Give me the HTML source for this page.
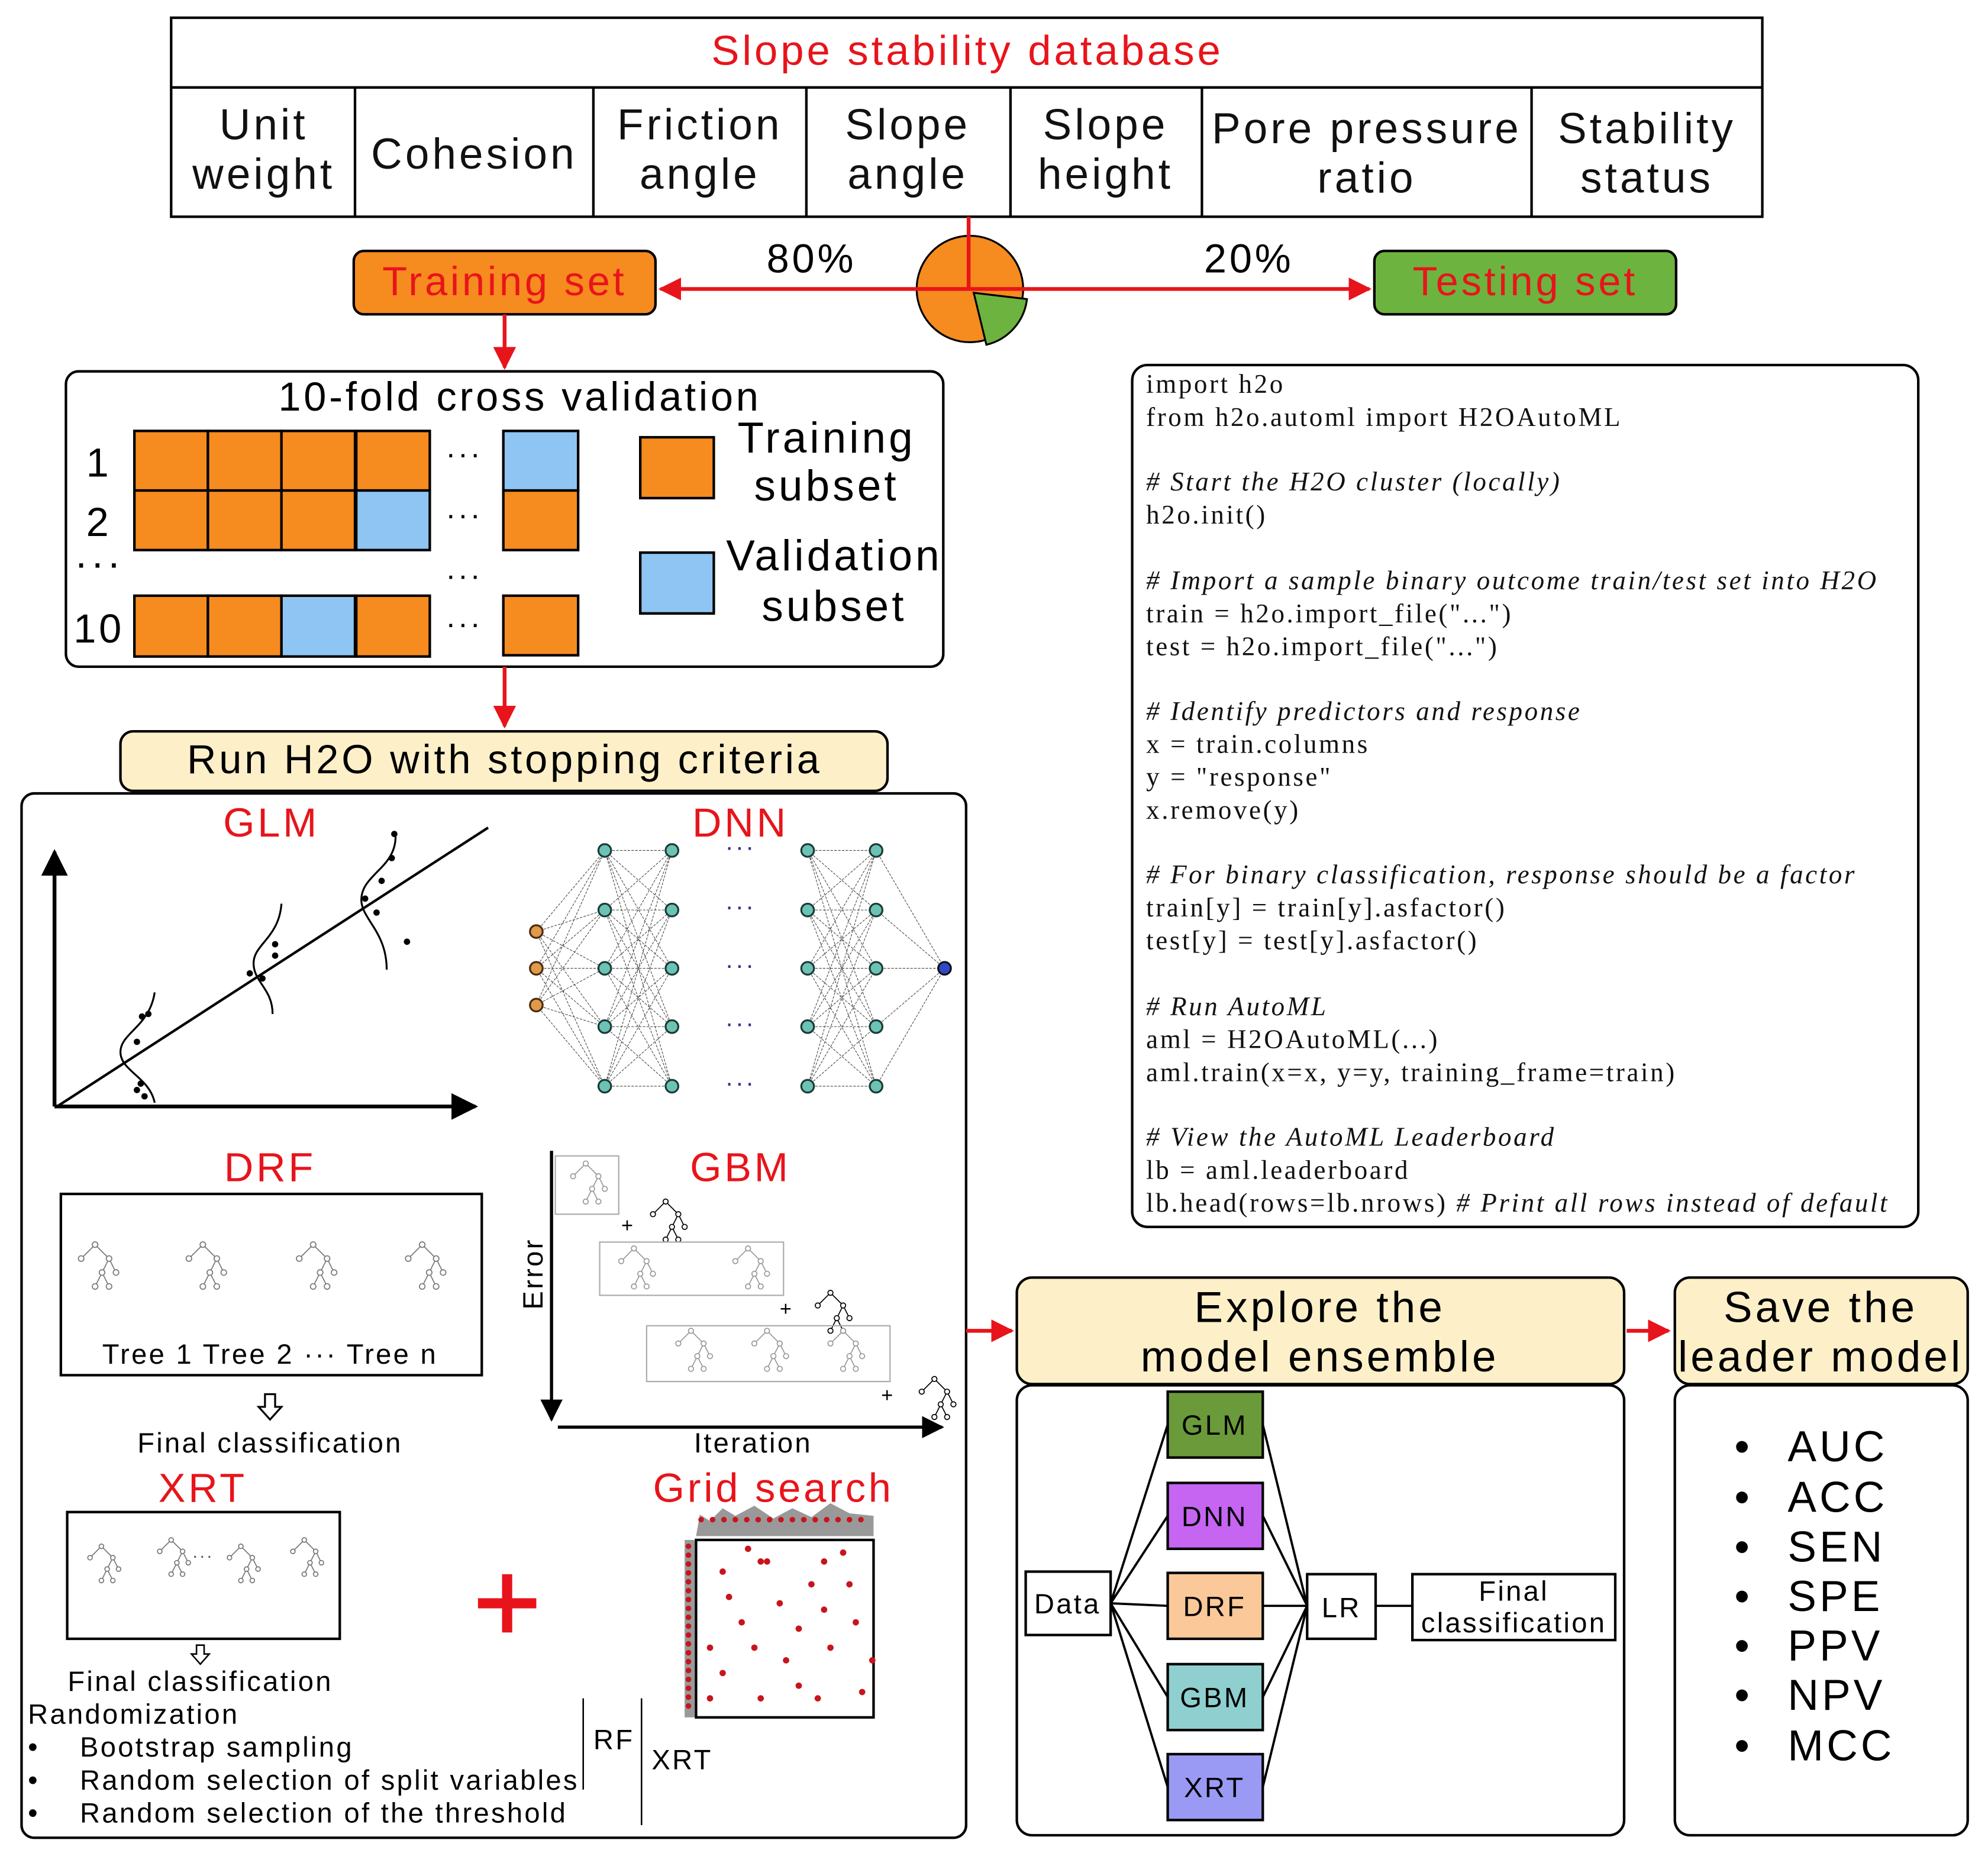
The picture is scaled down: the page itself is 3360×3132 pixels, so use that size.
<!DOCTYPE html>
<html><head><meta charset="utf-8">
<style>
html,body{margin:0;padding:0;background:#fff;}
svg{display:block;}
text{font-family:"Liberation Sans",sans-serif;letter-spacing:0.07em;}
.ser text{font-family:"Liberation Serif",serif;font-size:21px;fill:#111;letter-spacing:0.08em;}
.ser .it, .ser tspan.it{font-style:italic;}
</style></head>
<body>
<svg id="s" width="3360" height="3132" viewBox="0 0 1568 1462" preserveAspectRatio="none" xmlns="http://www.w3.org/2000/svg">
<defs>
<marker id="ar" viewBox="0 0 10 10" refX="9" refY="5" markerWidth="6" markerHeight="6" orient="auto"><path d="M0,0 L10,5 L0,10 z" fill="#e8141b"/></marker>
<marker id="ab" viewBox="0 0 10 10" refX="9" refY="5" markerWidth="7" markerHeight="7" orient="auto"><path d="M0,0 L10,5 L0,10 z" fill="#000"/></marker>
</defs>
<rect width="1568" height="1462" fill="#fff"/>
<g stroke="#000" stroke-width="2" fill="none">
<rect x="135" y="14" width="1255" height="157"/>
<line x1="135" y1="69" x2="1390" y2="69"/>
<line x1="280" y1="69" x2="280" y2="171"/><line x1="468" y1="69" x2="468" y2="171"/>
<line x1="636" y1="69" x2="636" y2="171"/><line x1="797" y1="69" x2="797" y2="171"/>
<line x1="948" y1="69" x2="948" y2="171"/><line x1="1208" y1="69" x2="1208" y2="171"/>
</g>
<text x="763" y="51" font-size="33" fill="#e8141b" text-anchor="middle">Slope stability database</text>
<g font-size="34" text-anchor="middle" fill="#111">
<text x="208" y="110">Unit</text><text x="208" y="149">weight</text>
<text x="374" y="133">Cohesion</text>
<text x="552" y="110">Friction</text><text x="552" y="149">angle</text>
<text x="716" y="110">Slope</text><text x="716" y="149">angle</text>
<text x="872" y="110">Slope</text><text x="872" y="149">height</text>
<text x="1078" y="113">Pore pressure</text><text x="1078" y="152">ratio</text>
<text x="1299" y="113">Stability</text><text x="1299" y="152">status</text>
</g>
<circle cx="765" cy="228" r="42" fill="#f68b1f" stroke="#000" stroke-width="1.5"/>
<path d="M768,231 L810,236 A42,42 0 0 1 778,272 Z" fill="#6db33f" stroke="#000" stroke-width="1.5"/>
<line x1="764" y1="171" x2="764" y2="228" stroke="#e8141b" stroke-width="3"/>
<line x1="764" y1="228" x2="521" y2="228" stroke="#e8141b" stroke-width="3" marker-end="url(#ar)"/>
<line x1="764" y1="228" x2="1080" y2="228" stroke="#e8141b" stroke-width="3" marker-end="url(#ar)"/>
<text x="640" y="215" font-size="32" text-anchor="middle">80%</text>
<text x="985" y="215" font-size="32" text-anchor="middle">20%</text>
<rect x="279" y="198" width="238" height="50" rx="8" fill="#f68b1f" stroke="#000" stroke-width="2"/>
<text x="398" y="233" font-size="32" fill="#e8141b" text-anchor="middle">Training set</text>
<rect x="1084" y="198" width="238" height="50" rx="8" fill="#6db33f" stroke="#000" stroke-width="2"/>
<text x="1203" y="233" font-size="32" fill="#e8141b" text-anchor="middle">Testing set</text>
<line x1="398" y1="248" x2="398" y2="290" stroke="#e8141b" stroke-width="3" marker-end="url(#ar)"/>
<rect x="52" y="293" width="692" height="233" rx="10" fill="#fff" stroke="#000" stroke-width="2"/>
<text x="410" y="324" font-size="32" text-anchor="middle">10-fold cross validation</text>
<g id="grid" stroke="#000" stroke-width="2"></g>
<g font-size="32" text-anchor="middle">
<text x="78" y="376">1</text><text x="78" y="423">2</text><text x="78" y="455">···</text><text x="78" y="507">10</text>
<text x="366" y="366" font-size="24">···</text><text x="366" y="414" font-size="24">···</text><text x="366" y="462" font-size="24">···</text><text x="366" y="500" font-size="24">···</text>
</g>
<rect x="505" y="345" width="58" height="48" fill="#f68b1f" stroke="#000" stroke-width="2"/>
<rect x="505" y="436" width="58" height="48" fill="#8ec5f2" stroke="#000" stroke-width="2"/>
<g font-size="34" text-anchor="middle"><text x="652" y="357">Training</text><text x="652" y="395">subset</text>
<text x="658" y="450">Validation</text><text x="658" y="490">subset</text></g>
<line x1="398" y1="526" x2="398" y2="573" stroke="#e8141b" stroke-width="3" marker-end="url(#ar)"/>
<rect x="95" y="577" width="605" height="47" rx="10" fill="#fdf0c8" stroke="#000" stroke-width="2"/>
<text x="398" y="610" font-size="32" text-anchor="middle">Run H2O with stopping criteria</text>
<rect x="17" y="626" width="745" height="824" rx="10" fill="none" stroke="#000" stroke-width="2"/>
<text x="214" y="660" font-size="32" fill="#e8141b" text-anchor="middle">GLM</text>
<line x1="43" y1="873" x2="43" y2="672" stroke="#000" stroke-width="3" marker-end="url(#ab)"/>
<line x1="43" y1="873" x2="375" y2="873" stroke="#000" stroke-width="3" marker-end="url(#ab)"/>
<line x1="45" y1="873" x2="385" y2="653" stroke="#000" stroke-width="2"/>
<g fill="none" stroke="#000" stroke-width="1.5">
<path d="M122,783 C118,810 95,815 95,830 C95,845 118,850 122,870"/>
<path d="M222,713 C220,740 200,745 200,760 C200,775 215,780 215,800"/>
<path d="M312,660 C312,685 285,690 285,710 C285,725 305,735 305,765"/>
</g>
<g fill="#000"><circle cx="112" cy="802" r="2.5"/><circle cx="117" cy="800" r="2.5"/><circle cx="108" cy="822" r="2.5"/><circle cx="111" cy="855" r="2.5"/><circle cx="114" cy="865" r="2.5"/><circle cx="108" cy="860" r="2.5"/>
<circle cx="217" cy="745" r="2.5"/><circle cx="217" cy="754" r="2.5"/><circle cx="197" cy="768" r="2.5"/><circle cx="207" cy="772" r="2.5"/>
<circle cx="311" cy="658" r="2.5"/><circle cx="309" cy="677" r="2.5"/><circle cx="301" cy="695" r="2.5"/><circle cx="288" cy="709" r="2.5"/><circle cx="297" cy="720" r="2.5"/><circle cx="321" cy="743" r="2.5"/></g>
<text x="584" y="660" font-size="32" fill="#e8141b" text-anchor="middle">DNN</text>
<g id="dnn"></g>
<text x="213" y="932" font-size="32" fill="#e8141b" text-anchor="middle">DRF</text>
<rect x="48" y="942" width="332" height="143" fill="none" stroke="#000" stroke-width="2"/>
<g id="trees" stroke="#777" stroke-width="0.8" fill="#fff"></g>
<text x="213" y="1076" font-size="22" text-anchor="middle">Tree 1  Tree 2    ···    Tree n</text>
<path d="M209,1100 h8 v10 h5 l-9,10 l-9,-10 h5 z" fill="#fff" stroke="#000" stroke-width="1.5"/>
<text x="213" y="1146" font-size="22" text-anchor="middle">Final classification</text>
<text x="584" y="932" font-size="32" fill="#e8141b" text-anchor="middle">GBM</text>
<line x1="435" y1="908" x2="435" y2="1120" stroke="#000" stroke-width="2.5" marker-end="url(#ab)"/>
<line x1="440" y1="1126" x2="743" y2="1126" stroke="#000" stroke-width="2.5" marker-end="url(#ab)"/>
<text x="428" y="1005" font-size="22" text-anchor="middle" transform="rotate(-90 428 1005)">Error</text>
<text x="594" y="1146" font-size="22" text-anchor="middle">Iteration</text>
<g fill="none" stroke="#aaa" stroke-width="1"><rect x="438" y="912" width="50" height="46"/><rect x="473" y="980" width="145" height="42"/><rect x="510" y="1046" width="192" height="44"/></g>
<g font-size="16" fill="#000"><text x="490" y="972">+</text><text x="615" y="1038">+</text><text x="695" y="1106">+</text></g>
<text x="160" y="1185" font-size="32" fill="#e8141b" text-anchor="middle">XRT</text>
<rect x="53" y="1193" width="215" height="100" fill="none" stroke="#000" stroke-width="2"/>
<text x="160" y="1232" font-size="14" text-anchor="middle" fill="#555">···</text>
<path d="M155,1298 h6 v7 h4 l-7,8 l-7,-8 h4 z" fill="#fff" stroke="#000" stroke-width="1.2"/>
<text x="158" y="1334" font-size="22" text-anchor="middle">Final classification</text>
<g font-size="22"><text x="22" y="1360">Randomization</text>
<text x="22" y="1386">•</text><text x="63" y="1386">Bootstrap sampling</text>
<text x="22" y="1412">•</text><text x="63" y="1412">Random selection of split variables</text>
<text x="22" y="1438">•</text><text x="63" y="1438">Random selection of the threshold</text>
<text x="468" y="1380">RF</text><text x="514" y="1396">XRT</text></g>
<line x1="460" y1="1340" x2="460" y2="1412" stroke="#000" stroke-width="1.2"/>
<line x1="506" y1="1340" x2="506" y2="1440" stroke="#000" stroke-width="1.2"/>
<path d="M400,1242 v46 M377,1265 h46" stroke="#e8141b" stroke-width="8"/>
<text x="610" y="1185" font-size="32" fill="#e8141b" text-anchor="middle">Grid search</text>
<path d="M549,1212 L552,1195 L560,1200 L570,1190 L580,1196 L595,1188 L610,1198 L625,1190 L640,1197 L655,1186 L670,1194 L689,1196 L689,1212 Z" fill="#999"/>
<rect x="540" y="1215" width="8" height="140" fill="#999"/>
<rect x="549" y="1215" width="140" height="140" fill="#fff" stroke="#000" stroke-width="2"/>
<g id="dots" fill="#c8141b"></g>
<rect x="893" y="288" width="620" height="680" rx="12" fill="none" stroke="#000" stroke-width="2"/>
<g class="ser">
<text x="904" y="310">import h2o</text>
<text x="904" y="336">from h2o.automl import H2OAutoML</text>
<text x="904" y="387" class="it"># Start the H2O cluster (locally)</text>
<text x="904" y="413">h2o.init()</text>
<text x="904" y="465" class="it"># Import a sample binary outcome train/test set into H2O</text>
<text x="904" y="491">train = h2o.import_file("...")</text>
<text x="904" y="517">test = h2o.import_file("...")</text>
<text x="904" y="568" class="it"># Identify predictors and response</text>
<text x="904" y="594">x = train.columns</text>
<text x="904" y="620">y = "response"</text>
<text x="904" y="646">x.remove(y)</text>
<text x="904" y="697" class="it"># For binary classification, response should be a factor</text>
<text x="904" y="723">train[y] = train[y].asfactor()</text>
<text x="904" y="749">test[y] = test[y].asfactor()</text>
<text x="904" y="801" class="it"># Run AutoML</text>
<text x="904" y="827">aml = H2OAutoML(...)</text>
<text x="904" y="853">aml.train(x=x, y=y, training_frame=train)</text>
<text x="904" y="904" class="it"># View the AutoML Leaderboard</text>
<text x="904" y="930">lb = aml.leaderboard</text>
<text x="904" y="956">lb.head(rows=lb.nrows)  <tspan class="it"># Print all rows instead of default</tspan></text>
</g>
<line x1="762" y1="1050" x2="798" y2="1050" stroke="#e8141b" stroke-width="3" marker-end="url(#ar)"/>
<rect x="802" y="1008" width="479" height="84" rx="12" fill="#fdf0c8" stroke="#000" stroke-width="2"/>
<text x="1041" y="1043" font-size="34" text-anchor="middle">Explore the</text>
<text x="1041" y="1082" font-size="34" text-anchor="middle">model ensemble</text>
<rect x="802" y="1093" width="479" height="355" rx="12" fill="none" stroke="#000" stroke-width="2"/>
<g stroke="#000" stroke-width="1.8">
<line x1="876" y1="1265" x2="921" y2="1124"/><line x1="876" y1="1265" x2="921" y2="1196"/><line x1="876" y1="1265" x2="921" y2="1267"/><line x1="876" y1="1265" x2="921" y2="1339"/><line x1="876" y1="1265" x2="921" y2="1410"/>
<line x1="996" y1="1124" x2="1031" y2="1267"/><line x1="996" y1="1196" x2="1031" y2="1267"/><line x1="996" y1="1267" x2="1031" y2="1267"/><line x1="996" y1="1339" x2="1031" y2="1267"/><line x1="996" y1="1410" x2="1031" y2="1267"/>
<line x1="1085" y1="1267" x2="1114" y2="1267"/>
</g>
<g stroke="#000" stroke-width="2">
<rect x="809" y="1240" width="67" height="50" fill="#fff"/>
<rect x="921" y="1098" width="75" height="52" fill="#6a9a3a"/>
<rect x="921" y="1170" width="75" height="52" fill="#c565f2"/>
<rect x="921" y="1241" width="75" height="52" fill="#fbc89a"/>
<rect x="921" y="1313" width="75" height="52" fill="#8fcfcf"/>
<rect x="921" y="1384" width="75" height="52" fill="#9a9af5"/>
<rect x="1031" y="1242" width="54" height="51" fill="#fff"/>
<rect x="1114" y="1242" width="160" height="52" fill="#fff"/>
</g>
<g font-size="22" text-anchor="middle">
<text x="842" y="1273">Data</text><text x="958" y="1132">GLM</text><text x="958" y="1204">DNN</text><text x="958" y="1275">DRF</text><text x="958" y="1347">GBM</text><text x="958" y="1418">XRT</text>
<text x="1058" y="1276">LR</text><text x="1194" y="1263" letter-spacing="0.03em">Final</text><text x="1194" y="1288" letter-spacing="0.03em">classification</text></g>
<line x1="1283" y1="1050" x2="1316" y2="1050" stroke="#e8141b" stroke-width="3" marker-end="url(#ar)"/>
<rect x="1321" y="1008" width="231" height="84" rx="12" fill="#fdf0c8" stroke="#000" stroke-width="2"/>
<text x="1436" y="1043" font-size="34" text-anchor="middle">Save the</text>
<text x="1436" y="1082" font-size="34" text-anchor="middle" letter-spacing="0.02em">leader model</text>
<rect x="1321" y="1093" width="231" height="355" rx="12" fill="none" stroke="#000" stroke-width="2"/>
<g font-size="34"><text x="1368" y="1153">•</text><text x="1410" y="1153">AUC</text>
<text x="1368" y="1193">•</text><text x="1410" y="1193">ACC</text>
<text x="1368" y="1232">•</text><text x="1410" y="1232">SEN</text>
<text x="1368" y="1271">•</text><text x="1410" y="1271">SPE</text>
<text x="1368" y="1310">•</text><text x="1410" y="1310">PPV</text>
<text x="1368" y="1349">•</text><text x="1410" y="1349">NPV</text>
<text x="1368" y="1389">•</text><text x="1410" y="1389">MCC</text></g>
</svg>
<script>
var NS="http://www.w3.org/2000/svg";
function el(p,t,a){var e=document.createElementNS(NS,t);for(var k in a)e.setAttribute(k,a[k]);p.appendChild(e);return e;}
var g=document.getElementById("grid"),O="#f68b1f",B="#8ec5f2";
var xs=[106,164,222,281],rows=[[340,[O,O,O,O],B],[387,[O,O,O,B],O],[470,[O,O,B,O],O]];
rows.forEach(function(r){r[1].forEach(function(c,i){el(g,"rect",{x:xs[i],y:r[0],width:58,height:r[0]==470?48:47,fill:c});});el(g,"rect",{x:397,y:r[0],width:59,height:47,fill:r[2]});});
var d=document.getElementById("dnn");
var ys=[671,718,764,810,857],ins=[735,764,793];
function lines(x1,a,x2,b){a.forEach(function(y1){b.forEach(function(y2){el(d,"line",{x1:x1,y1:y1,x2:x2,y2:y2,stroke:"#444","stroke-width":0.5,"stroke-dasharray":"2,1"});});});}
lines(423,ins,477,ys);lines(477,ys,530,ys);lines(637,ys,691,ys);lines(691,ys,745,[764]);
ys.forEach(function(y){el(d,"text",{x:584,y:y+4,"font-size":20,fill:"#3a2a9a","text-anchor":"middle"}).textContent="···";
[477,530,637,691].forEach(function(x){el(d,"circle",{cx:x,cy:y,r:5,fill:"#6cc3b5",stroke:"#1d3b36","stroke-width":1.5});});});
ins.forEach(function(y){el(d,"circle",{cx:423,cy:y,r:5,fill:"#e09a4a",stroke:"#4a2b10","stroke-width":1.5});});
el(d,"circle",{cx:745,cy:764,r:5,fill:"#3048c8",stroke:"#111","stroke-width":1.5});
var t=document.getElementById("trees");
function tree(x,y,s,col){var p=[[0,0],[-1,1],[1,1],[0.5,2],[1.5,2],[0,3],[1,3]];var e=[[0,1],[0,2],[2,3],[2,4],[3,5],[3,6]];
e.forEach(function(q){el(t,"line",{x1:x+p[q[0]][0]*s,y1:y+p[q[0]][1]*s,x2:x+p[q[1]][0]*s,y2:y+p[q[1]][1]*s,stroke:col});});
p.forEach(function(q){el(t,"circle",{cx:x+q[0]*s,cy:y+q[1]*s,r:s/5,stroke:col});});}
[75,160,247,333].forEach(function(x){tree(x,982,11,"#777");});
tree(462,918,10,"#999");tree(525,948,10,"#000");tree(500,985,10,"#999");tree(590,985,10,"#999");tree(655,1020,10,"#000");
tree(545,1050,10,"#999");tree(605,1050,10,"#999");tree(665,1050,10,"#999");tree(737,1088,10,"#000");
tree(80,1220,9,"#777");tree(135,1215,9,"#777");tree(190,1220,9,"#777");tree(240,1215,9,"#777");
var dt=document.getElementById("dots");
var pts=[[570,1240],[600,1232],[640,1250],[665,1225],[585,1280],[615,1265],[655,1300],[675,1280],[570,1320],[600,1340],[630,1330],[680,1335],[560,1300],[620,1310],[650,1270],[595,1300],[670,1250],[575,1260],[605,1232],[645,1340],[560,1340],[630,1285],[688,1310],[590,1222],[650,1232]];
pts.forEach(function(p){el(dt,"circle",{cx:p[0],cy:p[1],r:2.5});});
for(var y=1220;y<1352;y+=7)el(dt,"circle",{cx:543,cy:y,r:2.2});
for(var x=553;x<688;x+=9)el(dt,"circle",{cx:x,cy:1196+(x%3)*3,r:2.2});
</script>
</body></html>
